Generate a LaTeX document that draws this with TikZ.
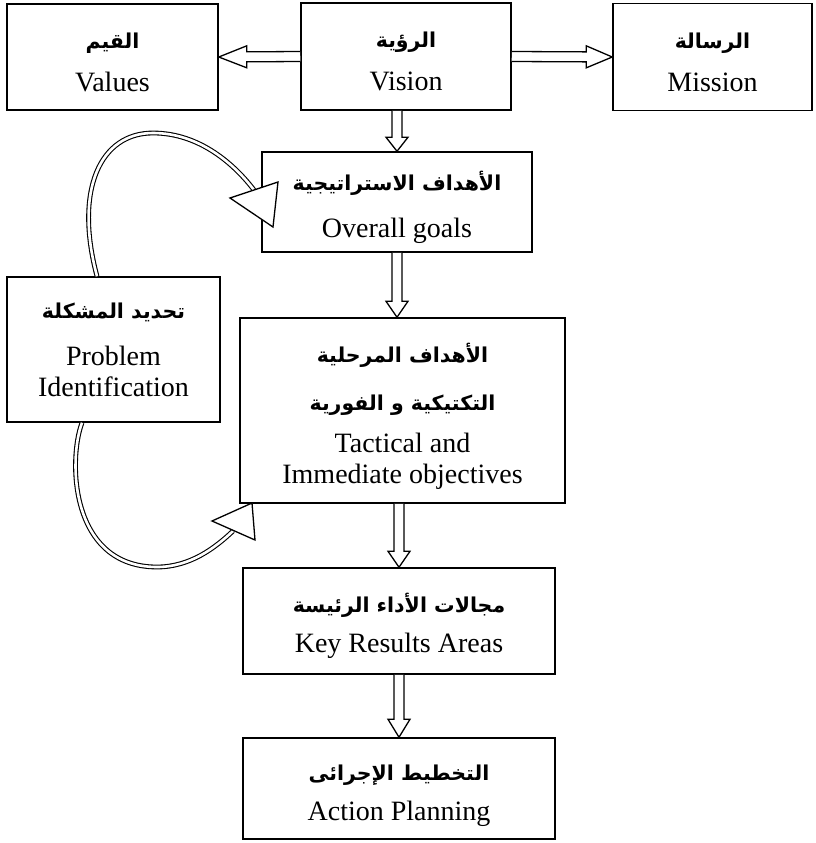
\documentclass[tikz,border=0pt]{standalone}
\usepackage{fontspec}
\setmainfont{Liberation Serif}
\newfontfamily\arabicfont[Script=Arabic]{DejaVu Sans}
\TeXXeTstate=1
\usetikzlibrary{calc}

\newcommand{\arline}[1]{{\arabicfont\bfseries\fontsize{20.5}{31}\selectfont\beginR #1\endR}}
\newcommand{\headstrut}[1][32pt]{\rule{0pt}{#1}}
\newcommand{\footstrut}{\rule[-8pt]{0pt}{8pt}}
% hollow block arrow: [head length]{from}{to}
\newcommand{\hollowarrow}[3][18pt]{%
  \coordinate (headbase) at ($(#3)!#1!(#2)$);
  \draw[blockarrow] ($(#2)!\shafthalf!90:(#3)$) -- ($(headbase)!\shafthalf!90:(#3)$)
    -- ($(headbase)!\headhalf!90:(#3)$) -- (#3) -- ($(headbase)!\headhalf!-90:(#3)$)
    -- ($(headbase)!\shafthalf!-90:(#3)$) -- ($(#2)!\shafthalf!-90:(#3)$);
}

\tikzset{
  box/.style={draw,line width=1.5pt,align=center,inner sep=0pt,
    font=\fontsize{28}{31}\selectfont},
  blockarrow/.style={line width=1.3pt,line join=miter,fill=white},
  curvearrow/.style={double=white,double distance=2.6pt,line width=1.1pt},
  openhead/.style={draw,fill=white,line width=1.3pt,line join=miter}
}

\begin{document}
\begin{tikzpicture}[x=1pt,y=-1pt]
  \def\shafthalf{5pt}
  \def\headhalf{11pt}
  \useasboundingbox (0,0) rectangle (816,843);

  % top row
  \node[box,minimum width=211pt,minimum height=106pt] (values) at (112.5,57)
    {\headstrut[33pt]\arline{القيم}\\[12pt]Values\footstrut};
  \node[box,minimum width=210pt,minimum height=107pt] (vision) at (406,56.5)
    {\headstrut[33pt]\arline{الرؤية}\\[12pt]Vision\footstrut};
  \node[box,minimum width=199pt,minimum height=107pt] (mission) at (712.5,57)
    {\headstrut[33pt]\arline{الرسالة}\\[12pt]Mission\footstrut};

  % main column
  \node[box,minimum width=270pt,minimum height=100pt] (overall) at (397,202)
    {\headstrut[31pt]\arline{الأهداف الاستراتيجية}\\[16pt]Overall goals\footstrut};
  \node[box,minimum width=325pt,minimum height=185pt] (tactical) at (402.5,410.5)
    {\headstrut\arline{الأهداف المرحلية}\\[17pt]\arline{التكتيكية و الفورية}\\[11pt]Tactical and\\Immediate objectives\footstrut};
  \node[box,minimum width=312pt,minimum height=106pt] (kra) at (399,621)
    {\headstrut[30pt]\arline{مجالات الأداء الرئيسة}\\[9pt]Key Results Areas\footstrut};
  \node[box,minimum width=312pt,minimum height=101pt] (action) at (399,788.5)
    {\headstrut[31pt]\arline{التخطيط الإجرائى}\\[9pt]Action Planning\footstrut};

  % feedback box
  \node[box,minimum width=213pt,minimum height=145pt] (problem) at (113.5,349.5)
    {\arline{تحديد المشكلة}\\[16pt]Problem\\Identification};

  % hollow arrows
  \foreach \headlen/\from/\to in {
    28pt/vision.west/values.east,
    26pt/vision.east/mission.west,
    14pt/vision.south -| overall.north/overall.north,
    16pt/overall.south/overall.south |- tactical.north,
    16pt/kra.north |- tactical.south/kra.north,
    18pt/kra.south/action.north} {
    \hollowarrow[\headlen]{\from}{\to}
  }

  % loop from problem identification
  \coordinate (goalsin) at (254,190);
  \coordinate (tacticalin) at (233,531);
  \draw[curvearrow] ([xshift=-16.5pt]problem.north) .. controls (74,190) and (100,133) .. (153,133)
    .. controls (200,133) and (235,165) .. (goalsin);
  \draw[openhead] (230,198) -- (278,182) -- (273,227) -- cycle;
  \draw[curvearrow] ([xshift=-31.5pt]problem.south) .. controls (68,460) and (70,567) .. (157,567)
    .. controls (190,567) and (215,548) .. (tacticalin);
  \draw[openhead] (212,521) -- (255,540) -- (252,503) -- cycle;
\end{tikzpicture}
\end{document}
